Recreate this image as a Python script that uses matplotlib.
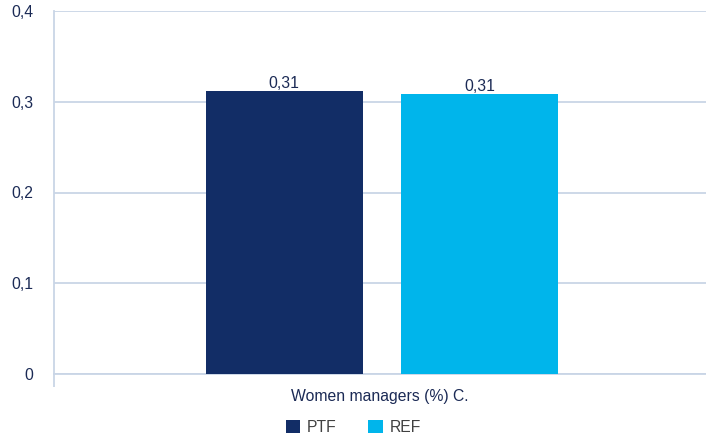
import matplotlib
matplotlib.use("Agg")
import matplotlib.pyplot as plt
from matplotlib.patches import Patch

plt.rcParams['font.family'] = ['Liberation Sans', 'DejaVu Sans']

category = "Women managers (%) C."
series = ["PTF", "REF"]
values = [0.312, 0.309]
labels = ["0,31", "0,31"]
colors = ["#122D66", "#00B5EB"]
yticks = [0, 0.1, 0.2, 0.3, 0.4]
ytick_labels = ["0", "0,1", "0,2", "0,3", "0,4"]

grid_c = "#C9D5E6"
text_c = "#1B2A55"
fs = 11.3

fig = plt.figure(figsize=(7.06, 4.37), dpi=100)
ax = fig.add_axes([54/706, 1 - 374/437, 1 - 54/706, (374 - 11)/437])

offsets = [-0.147, 0.153]
width = 0.241
for off, v, lab, c in zip(offsets, values, labels, colors):
    ax.bar(off, v, width=width, color=c, zorder=3)
    ax.text(off, v, lab, ha='center', va='bottom', fontsize=fs, color=text_c, zorder=4)

ax.set_xlim(-0.5, 0.5)
ax.set_ylim(0, 0.4)
ax.set_yticks(yticks)
ax.set_yticklabels(ytick_labels, fontsize=fs, color=text_c)
ax.tick_params(axis='y', length=0, pad=15)
ax.yaxis.grid(True, color=grid_c, linewidth=1.3, zorder=0)

ax.set_xticks([-0.5])
ax.set_xticklabels([""])
ax.tick_params(axis='x', which='major', length=9, width=1.3, color=grid_c, direction='out')
ax.set_xticks([0.0], minor=True)
ax.set_xticklabels([category], minor=True, fontsize=fs, color=text_c)
ax.tick_params(axis='x', which='minor', length=0, pad=11)

for s in ['top', 'right']:
    ax.spines[s].set_visible(False)
ax.spines['left'].set_color(grid_c)
ax.spines['left'].set_linewidth(1.3)
ax.spines['bottom'].set_color(grid_c)
ax.spines['bottom'].set_linewidth(1.3)

handles = [Patch(facecolor=c, edgecolor='none') for c in colors]
leg = fig.legend(handles, series, loc='center', bbox_to_anchor=(353.5/706, 1 - 427/437),
                 ncol=2, frameon=False, fontsize=fs, handlelength=0.9, handleheight=0.9,
                 columnspacing=2.0, handletextpad=0.45)
for t in leg.get_texts():
    t.set_color("#404040")

fig.savefig("out.png", dpi=100)
